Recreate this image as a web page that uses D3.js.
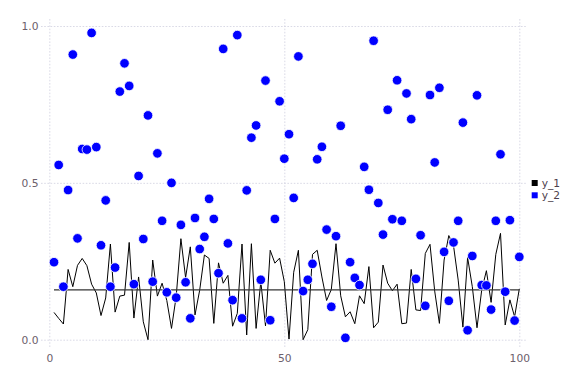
<!DOCTYPE html>
<html>
<head>
<meta charset="utf-8">
<script src="https://cdn.jsdelivr.net/npm/d3@7/dist/d3.min.js"></script>
<style>
  body { margin: 0; background: #fff; }
  svg { display: block; font-family: "DejaVu Sans", sans-serif; }
</style>
</head>
<body>
<svg id="chart" width="576" height="384"></svg>
<script>
// series values, x = 1..100
const y1 = [0.087, 0.068, 0.050, 0.224, 0.169, 0.237, 0.259, 0.236, 0.177, 0.149,
  0.077, 0.133, 0.305, 0.088, 0.139, 0.142, 0.310, 0.069, 0.200, 0.057,
  0.000, 0.254, 0.139, 0.180, 0.125, 0.036, 0.138, 0.322, 0.198, 0.296,
  0.079, 0.158, 0.270, 0.259, 0.052, 0.245, 0.180, 0.205, 0.043, 0.084,
  0.305, 0.015, 0.306, 0.036, 0.185, 0.044, 0.285, 0.244, 0.260, 0.185,
  0.002, 0.215, 0.285, 0.000, 0.032, 0.272, 0.285, 0.200, 0.125, 0.160,
  0.306, 0.140, 0.073, 0.089, 0.051, 0.140, 0.115, 0.233, 0.038, 0.056,
  0.238, 0.180, 0.156, 0.177, 0.051, 0.053, 0.224, 0.095, 0.093, 0.275,
  0.304, 0.155, 0.052, 0.254, 0.332, 0.300, 0.190, 0.040, 0.262, 0.169,
  0.038, 0.158, 0.220, 0.119, 0.272, 0.339, 0.047, 0.127, 0.073, 0.162];

const y2 = [0.247, 0.557, 0.169, 0.477, 0.909, 0.323, 0.608, 0.606, 0.978, 0.614,
  0.301, 0.444, 0.169, 0.230, 0.791, 0.881, 0.809, 0.177, 0.522, 0.321,
  0.715, 0.185, 0.594, 0.379, 0.151, 0.500, 0.134, 0.366, 0.183, 0.068,
  0.388, 0.289, 0.328, 0.449, 0.385, 0.212, 0.927, 0.307, 0.126, 0.971,
  0.068, 0.476, 0.644, 0.683, 0.191, 0.826, 0.062, 0.385, 0.760, 0.577,
  0.655, 0.452, 0.903, 0.155, 0.191, 0.242, 0.575, 0.615, 0.351, 0.105,
  0.330, 0.682, 0.006, 0.247, 0.197, 0.174, 0.551, 0.478, 0.953, 0.436,
  0.335, 0.733, 0.384, 0.827, 0.379, 0.785, 0.703, 0.194, 0.333, 0.108,
  0.780, 0.565, 0.803, 0.280, 0.124, 0.310, 0.379, 0.692, 0.030, 0.267,
  0.779, 0.174, 0.173, 0.096, 0.379, 0.591, 0.153, 0.381, 0.061, 0.264];

const y1Level = 0.159;   // flat reference line drawn with y_1
const xs = d3.range(1, y1.length + 1);
const xTicks = [0, 50, 100];
const yTicks = [0, 0.5, 1.0];
const seriesNames = ["y_1", "y_2"];
const seriesColors = ["#000000", "#0000ff"];

const svg = d3.select("#chart");
const panel = { left: 41, right: 527, top: 19, bottom: 347 };

const x = d3.scaleLinear().domain([0, 100]).range([49.3, 519.3]);
const y = d3.scaleLinear().domain([0, 1]).range([339.7, 26]);

// grid + tick labels
const gridStyle = g => {
  g.select(".domain").remove();
  g.selectAll(".tick line")
    .attr("stroke", "#d0d0e0")
    .attr("stroke-width", 0.8)
    .attr("stroke-dasharray", "1.6,1.6");
  g.selectAll(".tick text")
    .attr("fill", "#6c606b")
    .attr("font-size", "10.7px")
    .attr("font-family", "DejaVu Sans, sans-serif");
};

svg.append("g")
  .attr("transform", "translate(" + panel.left + ",0)")
  .call(d3.axisLeft(y).tickValues(yTicks).tickFormat(d3.format(".1f"))
    .tickSize(-(panel.right - panel.left)).tickPadding(2.5))
  .call(gridStyle);

svg.append("g")
  .attr("transform", "translate(0," + panel.bottom + ")")
  .call(d3.axisBottom(x).tickValues(xTicks).tickFormat(d3.format("d"))
    .tickSize(-(panel.bottom - panel.top)).tickPadding(7))
  .call(gridStyle);

// y_1 line
const line = d3.line()
  .x((d, i) => x(xs[i]))
  .y(d => y(d));

svg.append("path")
  .datum(y1)
  .attr("fill", "none")
  .attr("stroke", seriesColors[0])
  .attr("stroke-width", 1)
  .attr("stroke-linejoin", "round")
  .attr("d", line);

svg.append("line")
  .attr("x1", x(xs[0]))
  .attr("x2", x(xs[xs.length - 1]))
  .attr("y1", y(y1Level))
  .attr("y2", y(y1Level))
  .attr("stroke", "#333")
  .attr("stroke-width", 1.3);

// y_2 points
svg.append("g")
  .selectAll("circle")
  .data(y2)
  .enter().append("circle")
  .attr("cx", (d, i) => x(xs[i]))
  .attr("cy", d => y(d))
  .attr("r", 4.8)
  .attr("fill", seriesColors[1])
  .attr("stroke", "#fff")
  .attr("stroke-width", 0.8);

// legend
const legend = svg.append("g").attr("transform", "translate(531.7,180)");
const item = legend.selectAll("g")
  .data(seriesNames)
  .enter().append("g")
  .attr("transform", (d, i) => "translate(0," + (i * 12.3) + ")");

item.append("rect")
  .attr("width", 6)
  .attr("height", 6)
  .attr("fill", (d, i) => seriesColors[i]);

item.append("text")
  .attr("x", 10)
  .attr("y", 3)
  .attr("dy", "0.35em")
  .attr("font-size", "10.7px")
  .attr("fill", "#4c404b")
  .text(d => d);
</script>
</body>
</html>
